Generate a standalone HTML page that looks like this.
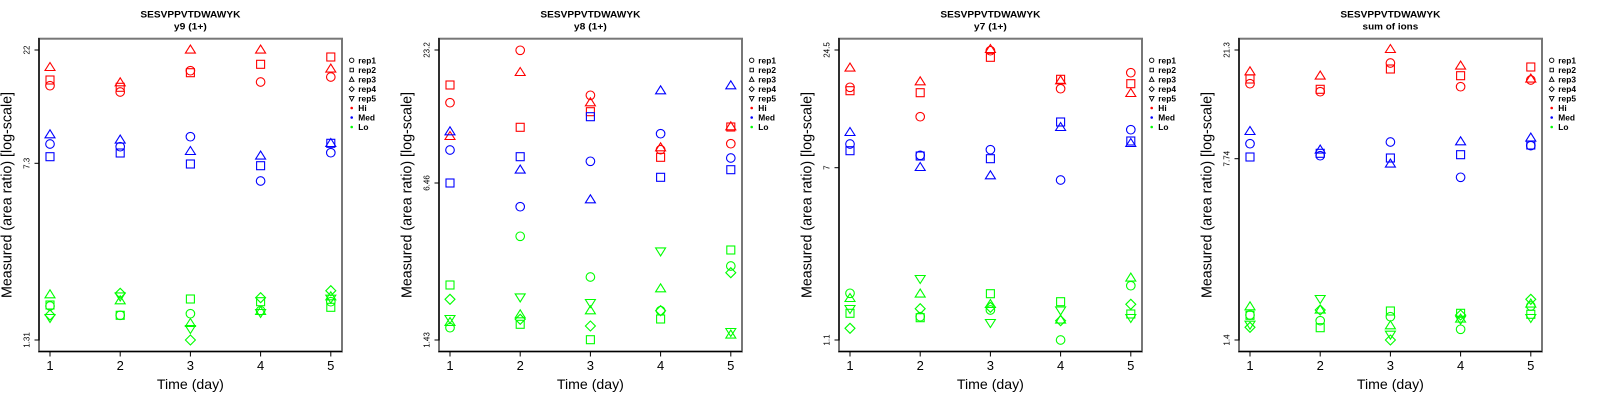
<!DOCTYPE html>
<html><head><meta charset="utf-8"><style>
html,body{margin:0;padding:0;background:#fff;}
svg{display:block;font-family:"Liberation Sans",Arial,sans-serif;}
</style></head><body>
<svg width="1600" height="400" viewBox="0 0 1600 400" xmlns="http://www.w3.org/2000/svg">
<defs>
<circle id="c" r="4.3" fill="none"/>
<rect id="s" x="-4" y="-4" width="8" height="8" fill="none"/>
<polygon id="t" points="0,-4.2 5,3.8 -5,3.8" fill="none"/>
<polygon id="d" points="0,-5 5,0 0,5 -5,0" fill="none"/>
<polygon id="v" points="0,4.2 5,-3.8 -5,-3.8" fill="none"/>
<g id="frame">
<rect x="39" y="38.7" width="303" height="312.8" fill="none" stroke="#777" stroke-width="2"/>
<line x1="39" y1="38" x2="39" y2="340.5" stroke="#000" stroke-width="1.2"/>
<line x1="38.5" y1="351.5" x2="342" y2="351.5" stroke="#000" stroke-width="1.2"/>
<g stroke="#000" stroke-width="1">
<line x1="34.5" y1="50" x2="39" y2="50"/>
<line x1="34.5" y1="340" x2="39" y2="340"/>
<line x1="50" y1="351.5" x2="50" y2="356.5"/>
<line x1="120.2" y1="351.5" x2="120.2" y2="356.5"/>
<line x1="190.4" y1="351.5" x2="190.4" y2="356.5"/>
<line x1="260.6" y1="351.5" x2="260.6" y2="356.5"/>
<line x1="330.8" y1="351.5" x2="330.8" y2="356.5"/>
</g>
<g font-size="13" text-anchor="middle" fill="#000">
<text x="50" y="370">1</text>
<text x="120.2" y="370">2</text>
<text x="190.4" y="370">3</text>
<text x="260.6" y="370">4</text>
<text x="330.8" y="370">5</text>
</g>
<text x="190.4" y="389" font-size="14" text-anchor="middle" textLength="67" lengthAdjust="spacingAndGlyphs">Time (day)</text>
<text transform="translate(11.7,195) rotate(-90)" font-size="15" text-anchor="middle" textLength="206" lengthAdjust="spacingAndGlyphs">Measured (area ratio) [log-scale]</text>
<text x="190.4" y="17.3" font-size="9" font-weight="bold" text-anchor="middle" textLength="100" lengthAdjust="spacingAndGlyphs">SESVPPVTDWAWYK</text>
<g stroke="#000" stroke-width="0.9" fill="none">
<circle cx="351.7" cy="60.3" r="2.2"/>
<rect x="350" y="68.2" width="3.4" height="3.6"/>
<polygon points="351.7,77 354,81.3 349.4,81.3"/>
<polygon points="351.7,86.6 354.2,89.1 351.7,91.6 349.2,89.1"/>
<polygon points="351.7,101 354,96.6 349.4,96.6"/>
</g>
<circle cx="351.7" cy="108" r="1.3" fill="#f00"/>
<circle cx="351.7" cy="117.5" r="1.3" fill="#00f"/>
<circle cx="351.7" cy="127" r="1.3" fill="#0f0"/>
<g font-size="8.4" font-weight="bold" fill="#000">
<text x="358.3" y="63.3">rep1</text>
<text x="358.3" y="72.8">rep2</text>
<text x="358.3" y="82.3">rep3</text>
<text x="358.3" y="91.9">rep4</text>
<text x="358.3" y="101.4">rep5</text>
<text x="358.3" y="110.9">Hi</text>
<text x="358.3" y="120.4">Med</text>
<text x="358.3" y="129.9">Lo</text>
</g>
</g>
</defs>

<!-- Panel 1 -->
<g transform="translate(0,0)">
<use href="#frame"/>
<text x="190.4" y="29.3" font-size="9" font-weight="bold" text-anchor="middle" textLength="33" lengthAdjust="spacingAndGlyphs">y9 (1+)</text>
<g font-size="8"><text transform="translate(29.5,50) rotate(-90)" text-anchor="middle">22</text>
<text transform="translate(29.5,163.3) rotate(-90)" text-anchor="middle">7.3</text>
<text transform="translate(29.5,340) rotate(-90)" text-anchor="middle">1.31</text></g>
<line x1="34.5" y1="163.3" x2="39" y2="163.3" stroke="#000"/>
<g stroke="#f00" stroke-width="1.1">
<use href="#t" x="50" y="66.7"/><use href="#s" x="50" y="80"/><use href="#c" x="50" y="85.7"/>
<use href="#t" x="120.2" y="82"/><use href="#s" x="120.2" y="87.3"/><use href="#c" x="120.2" y="92"/>
<use href="#t" x="190.4" y="49.3"/><use href="#c" x="190.4" y="70.7"/><use href="#s" x="190.4" y="72.7"/>
<use href="#t" x="260.6" y="49.3"/><use href="#s" x="260.6" y="64.3"/><use href="#c" x="260.6" y="82"/>
<use href="#s" x="330.8" y="57"/><use href="#t" x="330.8" y="68.3"/><use href="#c" x="330.8" y="77"/>
</g>
<g stroke="#00f" stroke-width="1.1">
<use href="#t" x="50" y="134"/><use href="#c" x="50" y="144"/><use href="#s" x="50" y="156.7"/>
<use href="#t" x="120.2" y="139.3"/><use href="#c" x="120.2" y="146.7"/><use href="#s" x="120.2" y="153"/>
<use href="#c" x="190.4" y="136.7"/><use href="#t" x="190.4" y="150.7"/><use href="#s" x="190.4" y="164"/>
<use href="#t" x="260.6" y="155.3"/><use href="#s" x="260.6" y="165.7"/><use href="#c" x="260.6" y="181"/>
<use href="#t" x="330.8" y="142.7"/><use href="#s" x="330.8" y="143.3"/><use href="#c" x="330.8" y="152.7"/>
</g>
<g stroke="#0f0" stroke-width="1.1">
<use href="#t" x="50" y="294"/><use href="#s" x="50" y="305"/><use href="#c" x="50" y="306"/><use href="#d" x="50" y="315"/><use href="#v" x="50" y="318.3"/>
<use href="#d" x="120.2" y="293.3"/><use href="#v" x="120.2" y="296.7"/><use href="#t" x="120.2" y="300"/><use href="#s" x="120.2" y="315.3"/><use href="#c" x="120.2" y="315.3"/>
<use href="#s" x="190.4" y="299"/><use href="#c" x="190.4" y="313.7"/><use href="#t" x="190.4" y="322.7"/><use href="#v" x="190.4" y="329.3"/><use href="#d" x="190.4" y="340"/>
<use href="#d" x="260.6" y="297.7"/><use href="#s" x="260.6" y="301.7"/><use href="#c" x="260.6" y="310.7"/><use href="#t" x="260.6" y="310.7"/><use href="#v" x="260.6" y="313.3"/>
<use href="#d" x="330.8" y="290.7"/><use href="#t" x="330.8" y="296"/><use href="#v" x="330.8" y="299"/><use href="#c" x="330.8" y="301.7"/><use href="#s" x="330.8" y="307.3"/>
</g>
</g>

<!-- Panel 2 -->
<g transform="translate(400,0)">
<use href="#frame"/>
<text x="190.4" y="29.3" font-size="9" font-weight="bold" text-anchor="middle" textLength="33" lengthAdjust="spacingAndGlyphs">y8 (1+)</text>
<g font-size="8"><text transform="translate(29.5,50) rotate(-90)" text-anchor="middle">23.2</text>
<text transform="translate(29.5,183) rotate(-90)" text-anchor="middle">6.46</text>
<text transform="translate(29.5,340) rotate(-90)" text-anchor="middle">1.43</text></g>
<line x1="34.5" y1="183" x2="39" y2="183" stroke="#000"/>
<g stroke="#f00" stroke-width="1.1">
<use href="#s" x="50" y="85"/><use href="#c" x="50" y="102.7"/><use href="#t" x="50" y="135.7"/>
<use href="#c" x="120.2" y="50.3"/><use href="#t" x="120.2" y="71.7"/><use href="#s" x="120.2" y="127.3"/>
<use href="#c" x="190.4" y="95.3"/><use href="#t" x="190.4" y="102"/><use href="#s" x="190.4" y="111.7"/>
<use href="#t" x="260.6" y="147"/><use href="#c" x="260.6" y="149.7"/><use href="#s" x="260.6" y="157.3"/>
<use href="#t" x="330.8" y="126"/><use href="#s" x="330.8" y="127"/><use href="#c" x="330.8" y="143.7"/>
</g>
<g stroke="#00f" stroke-width="1.1">
<use href="#t" x="50" y="131"/><use href="#c" x="50" y="150"/><use href="#s" x="50" y="183"/>
<use href="#s" x="120.2" y="156.7"/><use href="#t" x="120.2" y="169.3"/><use href="#c" x="120.2" y="206.7"/>
<use href="#s" x="190.4" y="116.7"/><use href="#c" x="190.4" y="161.3"/><use href="#t" x="190.4" y="199"/>
<use href="#t" x="260.6" y="90"/><use href="#c" x="260.6" y="133.7"/><use href="#s" x="260.6" y="177.3"/>
<use href="#t" x="330.8" y="85"/><use href="#c" x="330.8" y="158"/><use href="#s" x="330.8" y="169.7"/>
</g>
<g stroke="#0f0" stroke-width="1.1">
<use href="#s" x="50" y="285"/><use href="#d" x="50" y="299.3"/><use href="#v" x="50" y="319.3"/><use href="#t" x="50" y="321.7"/><use href="#c" x="50" y="327.7"/>
<use href="#c" x="120.2" y="236.3"/><use href="#v" x="120.2" y="297.7"/><use href="#t" x="120.2" y="314"/><use href="#d" x="120.2" y="319.3"/><use href="#s" x="120.2" y="324.3"/>
<use href="#c" x="190.4" y="277"/><use href="#v" x="190.4" y="303.3"/><use href="#t" x="190.4" y="310"/><use href="#d" x="190.4" y="326"/><use href="#s" x="190.4" y="339.7"/>
<use href="#v" x="260.6" y="251.7"/><use href="#t" x="260.6" y="288"/><use href="#d" x="260.6" y="310.7"/><use href="#c" x="260.6" y="310.7"/><use href="#s" x="260.6" y="319"/>
<use href="#s" x="330.8" y="250"/><use href="#c" x="330.8" y="266"/><use href="#d" x="330.8" y="272.7"/><use href="#v" x="330.8" y="332.3"/><use href="#t" x="330.8" y="334.3"/>
</g>
</g>

<!-- Panel 3 -->
<g transform="translate(800,0)">
<use href="#frame"/>
<text x="190.4" y="29.3" font-size="9" font-weight="bold" text-anchor="middle" textLength="33" lengthAdjust="spacingAndGlyphs">y7 (1+)</text>
<g font-size="8"><text transform="translate(29.5,50) rotate(-90)" text-anchor="middle">24.5</text>
<text transform="translate(29.5,167.7) rotate(-90)" text-anchor="middle">7</text>
<text transform="translate(29.5,340) rotate(-90)" text-anchor="middle">1.1</text></g>
<line x1="34.5" y1="167.7" x2="39" y2="167.7" stroke="#000"/>
<g stroke="#f00" stroke-width="1.1">
<use href="#t" x="50" y="67.3"/><use href="#c" x="50" y="87.3"/><use href="#s" x="50" y="90.7"/>
<use href="#t" x="120.2" y="81"/><use href="#s" x="120.2" y="92.7"/><use href="#c" x="120.2" y="116.7"/>
<use href="#t" x="190.4" y="48.7"/><use href="#c" x="190.4" y="50.7"/><use href="#s" x="190.4" y="57.3"/>
<use href="#s" x="260.6" y="79.3"/><use href="#t" x="260.6" y="80"/><use href="#c" x="260.6" y="88.7"/>
<use href="#c" x="330.8" y="72.7"/><use href="#s" x="330.8" y="83.7"/><use href="#t" x="330.8" y="92.7"/>
</g>
<g stroke="#00f" stroke-width="1.1">
<use href="#t" x="50" y="131.7"/><use href="#c" x="50" y="144"/><use href="#s" x="50" y="150.7"/>
<use href="#c" x="120.2" y="155.3"/><use href="#s" x="120.2" y="156"/><use href="#t" x="120.2" y="166.7"/>
<use href="#c" x="190.4" y="149.7"/><use href="#s" x="190.4" y="158.7"/><use href="#t" x="190.4" y="175"/>
<use href="#s" x="260.6" y="122"/><use href="#t" x="260.6" y="126.7"/><use href="#c" x="260.6" y="180"/>
<use href="#c" x="330.8" y="129.7"/><use href="#s" x="330.8" y="141"/><use href="#t" x="330.8" y="142.7"/>
</g>
<g stroke="#0f0" stroke-width="1.1">
<use href="#c" x="50" y="293.3"/><use href="#t" x="50" y="297.7"/><use href="#v" x="50" y="309.3"/><use href="#s" x="50" y="313.3"/><use href="#d" x="50" y="328.3"/>
<use href="#v" x="120.2" y="279.3"/><use href="#t" x="120.2" y="293.3"/><use href="#d" x="120.2" y="308.7"/><use href="#c" x="120.2" y="316.7"/><use href="#s" x="120.2" y="317.7"/>
<use href="#s" x="190.4" y="293.7"/><use href="#t" x="190.4" y="303.7"/><use href="#d" x="190.4" y="307.3"/><use href="#c" x="190.4" y="310"/><use href="#v" x="190.4" y="323.3"/>
<use href="#s" x="260.6" y="301.7"/><use href="#v" x="260.6" y="310.7"/><use href="#t" x="260.6" y="319.3"/><use href="#d" x="260.6" y="320.7"/><use href="#c" x="260.6" y="340"/>
<use href="#t" x="330.8" y="277.3"/><use href="#c" x="330.8" y="285.7"/><use href="#d" x="330.8" y="304.3"/><use href="#s" x="330.8" y="314"/><use href="#v" x="330.8" y="318.3"/>
</g>
</g>

<!-- Panel 4 -->
<g transform="translate(1200,0)">
<use href="#frame"/>
<text x="190.4" y="29.3" font-size="9" font-weight="bold" text-anchor="middle" textLength="55.7" lengthAdjust="spacingAndGlyphs">sum of ions</text>
<g font-size="8"><text transform="translate(29.5,50) rotate(-90)" text-anchor="middle">21.3</text>
<text transform="translate(29.5,158.7) rotate(-90)" text-anchor="middle">7.74</text>
<text transform="translate(29.5,340) rotate(-90)" text-anchor="middle">1.4</text></g>
<line x1="34.5" y1="158.7" x2="39" y2="158.7" stroke="#000"/>
<g stroke="#f00" stroke-width="1.1">
<use href="#t" x="50" y="71"/><use href="#s" x="50" y="79"/><use href="#c" x="50" y="83.7"/>
<use href="#t" x="120.2" y="75.3"/><use href="#s" x="120.2" y="89.3"/><use href="#c" x="120.2" y="91.7"/>
<use href="#t" x="190.4" y="48.7"/><use href="#c" x="190.4" y="63"/><use href="#s" x="190.4" y="69"/>
<use href="#t" x="260.6" y="65.3"/><use href="#s" x="260.6" y="75.7"/><use href="#c" x="260.6" y="86.7"/>
<use href="#s" x="330.8" y="67"/><use href="#t" x="330.8" y="78.3"/><use href="#c" x="330.8" y="80"/>
</g>
<g stroke="#00f" stroke-width="1.1">
<use href="#t" x="50" y="130.7"/><use href="#c" x="50" y="143.7"/><use href="#s" x="50" y="157"/>
<use href="#t" x="120.2" y="149.3"/><use href="#s" x="120.2" y="153.3"/><use href="#c" x="120.2" y="155.7"/>
<use href="#c" x="190.4" y="142"/><use href="#s" x="190.4" y="158"/><use href="#t" x="190.4" y="163.3"/>
<use href="#t" x="260.6" y="141"/><use href="#s" x="260.6" y="154.7"/><use href="#c" x="260.6" y="177.3"/>
<use href="#t" x="330.8" y="137.3"/><use href="#s" x="330.8" y="145"/><use href="#c" x="330.8" y="145.7"/>
</g>
<g stroke="#0f0" stroke-width="1.1">
<use href="#t" x="50" y="306"/><use href="#s" x="50" y="315.3"/><use href="#c" x="50" y="315"/><use href="#v" x="50" y="325"/><use href="#d" x="50" y="327.3"/>
<use href="#v" x="120.2" y="299.3"/><use href="#t" x="120.2" y="309.3"/><use href="#d" x="120.2" y="310"/><use href="#c" x="120.2" y="320.7"/><use href="#s" x="120.2" y="327.7"/>
<use href="#s" x="190.4" y="311"/><use href="#c" x="190.4" y="316.7"/><use href="#t" x="190.4" y="325"/><use href="#v" x="190.4" y="335"/><use href="#d" x="190.4" y="340"/>
<use href="#s" x="260.6" y="313.3"/><use href="#d" x="260.6" y="315"/><use href="#t" x="260.6" y="318.3"/><use href="#v" x="260.6" y="320"/><use href="#c" x="260.6" y="329.3"/>
<use href="#d" x="330.8" y="299.3"/><use href="#t" x="330.8" y="303.3"/><use href="#c" x="330.8" y="306"/><use href="#s" x="330.8" y="314.3"/><use href="#v" x="330.8" y="318.3"/>
</g>
</g>
</svg>
</body></html>
